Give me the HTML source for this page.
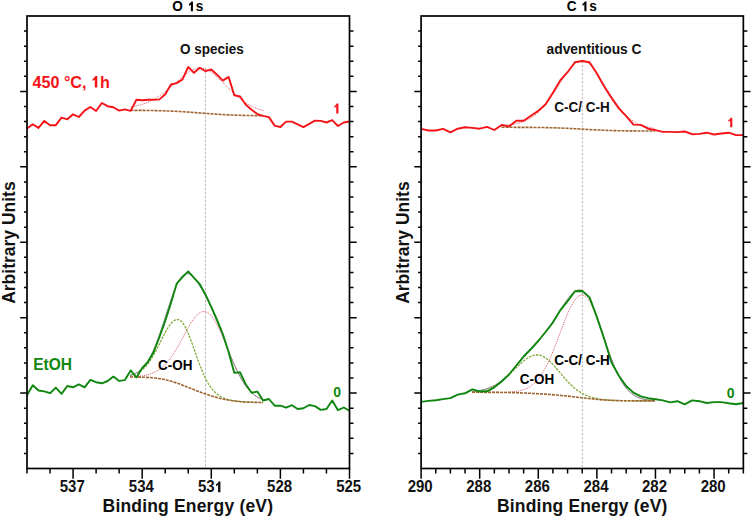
<!DOCTYPE html>
<html><head><meta charset="utf-8"><style>
html,body{margin:0;padding:0;background:#fff;}
body{width:752px;height:517px;overflow:hidden;}
svg{display:block;font-family:"Liberation Sans",sans-serif;font-weight:bold;}
</style></head><body>
<svg width="752" height="517" viewBox="0 0 752 517">
<rect width="752" height="517" fill="#fff"/>
<line x1="205.5" y1="67.7" x2="205.5" y2="468.5" stroke="#bbbbbb" stroke-width="1" stroke-dasharray="2.5,1.5"/>
<line x1="582.4" y1="61" x2="582.4" y2="468.5" stroke="#bbbbbb" stroke-width="1" stroke-dasharray="2.5,1.5"/>
<polyline points="130.6,106.89 132.26,106.62 133.92,106.32 135.58,105.99 137.25,105.62 138.91,105.21 140.57,104.76 142.23,104.27 143.89,103.72 145.55,103.13 147.21,102.48 148.87,101.78 150.53,101.02 152.2,100.19 153.86,99.31 155.52,98.36 157.18,97.36 158.84,96.29 160.5,95.15 162.16,93.96 163.82,92.71 165.49,91.41 167.15,90.06 168.81,88.67 170.47,87.23 172.13,85.77 173.79,84.29 175.45,82.79 177.12,81.3 178.78,79.81 180.44,78.35 182.1,76.92 183.76,75.54 185.42,74.23 187.08,73 188.74,71.87 190.41,70.86 192.07,69.97 193.73,69.23 195.39,68.66 197.05,68.25 198.71,68.03 200.37,67.99 202.03,68.15 203.69,68.49 205.36,69.02 207.02,69.72 208.68,70.59 210.34,71.62 212,72.78 213.66,74.06 215.32,75.44 216.99,76.91 218.65,78.45 220.31,80.05 221.97,81.68 223.63,83.34 225.29,85.01 226.95,86.68 228.61,88.33 230.27,89.96 231.94,91.55 233.6,93.11 235.26,94.62 236.92,96.07 238.58,97.47 240.24,98.8 241.9,100.07 243.56,101.27 245.23,102.41 246.89,103.48 248.55,104.47 250.21,105.4 251.87,106.27 253.53,107.07 255.19,107.8 256.86,108.48 258.52,109.1 260.18,109.67 261.84,110.19 263.5,110.66" fill="none" stroke="#d23c50" stroke-width="1" stroke-dasharray="1,1" stroke-opacity="0.85" stroke-linejoin="round"/>
<polyline points="130.6,110.3 132.26,110.31 133.92,110.32 135.58,110.33 137.25,110.35 138.91,110.36 140.57,110.38 142.23,110.39 143.89,110.41 145.55,110.43 147.21,110.46 148.87,110.48 150.53,110.51 152.2,110.53 153.86,110.57 155.52,110.6 157.18,110.64 158.84,110.68 160.5,110.72 162.16,110.77 163.82,110.82 165.49,110.87 167.15,110.93 168.81,111 170.47,111.06 172.13,111.13 173.79,111.21 175.45,111.29 177.12,111.38 178.78,111.47 180.44,111.56 182.1,111.66 183.76,111.76 185.42,111.87 187.08,111.98 188.74,112.1 190.41,112.22 192.07,112.34 193.73,112.46 195.39,112.59 197.05,112.72 198.71,112.85 200.37,112.98 202.03,113.11 203.69,113.24 205.36,113.37 207.02,113.5 208.68,113.63 210.34,113.75 212,113.87 213.66,113.99 215.32,114.1 216.99,114.21 218.65,114.32 220.31,114.42 221.97,114.52 223.63,114.61 225.29,114.7 226.95,114.79 228.61,114.87 230.27,114.94 231.94,115.01 233.6,115.08 235.26,115.14 236.92,115.2 238.58,115.25 240.24,115.3 241.9,115.35 243.56,115.39 245.23,115.43 246.89,115.47 248.55,115.5 250.21,115.53 251.87,115.56 253.53,115.58 255.19,115.61 256.86,115.63 258.52,115.65 260.18,115.67 261.84,115.68 263.5,115.7" fill="none" stroke="#9e6530" stroke-width="1.6" stroke-dasharray="3,1" stroke-linejoin="round"/>
<polyline points="130,375.58 131.66,375.18 133.32,374.69 134.99,374.08 136.65,373.35 138.31,372.47 139.97,371.43 141.64,370.2 143.3,368.77 144.96,367.13 146.62,365.27 148.29,363.17 149.95,360.85 151.61,358.29 153.28,355.53 154.94,352.57 156.6,349.45 158.26,346.21 159.93,342.89 161.59,339.55 163.25,336.25 164.91,333.06 166.57,330.06 168.24,327.3 169.9,324.87 171.56,322.83 173.22,321.24 174.89,320.14 176.55,319.59 178.21,319.59 179.88,320.2 181.54,321.51 183.2,323.53 184.86,326.2 186.53,329.46 188.19,333.22 189.85,337.39 191.51,341.85 193.18,346.51 194.84,351.26 196.5,356 198.16,360.64 199.82,365.11 201.49,369.35 203.15,373.31 204.81,376.96 206.47,380.28 208.14,383.26 209.8,385.92 211.46,388.26 213.12,390.3 214.79,392.07 216.45,393.59 218.11,394.9 219.78,396.01 221.44,396.96 223.1,397.76 224.76,398.45 226.43,399.03 228.09,399.53 229.75,399.96 231.41,400.32 233.07,400.64 234.74,400.91 236.4,401.15 238.06,401.35 239.72,401.53 241.39,401.69 243.05,401.82 244.71,401.94 246.38,402.04 248.04,402.12 249.7,402.2 251.36,402.26 253.03,402.31 254.69,402.36 256.35,402.4 258.01,402.43 259.68,402.46 261.34,402.48 263,402.5" fill="none" stroke="#82aa3c" stroke-width="1.3" stroke-dasharray="2.5,1.1" stroke-linejoin="round"/>
<polyline points="130,376.76 131.66,376.7 133.32,376.62 134.99,376.53 136.65,376.42 138.31,376.28 139.97,376.11 141.64,375.91 143.3,375.67 144.96,375.37 146.62,375.02 148.29,374.6 149.95,374.11 151.61,373.54 153.28,372.88 154.94,372.1 156.6,371.22 158.26,370.21 159.93,369.06 161.59,367.76 163.25,366.32 164.91,364.71 166.57,362.93 168.24,360.98 169.9,358.86 171.56,356.57 173.22,354.13 174.89,351.52 176.55,348.79 178.21,345.93 179.88,342.98 181.54,339.95 183.2,336.89 184.86,333.83 186.53,330.79 188.19,327.84 189.85,325 191.51,322.32 193.18,319.84 194.84,317.61 196.5,315.68 198.16,314.07 199.82,312.82 201.49,311.96 203.15,311.51 204.81,311.49 206.47,311.91 208.14,312.79 209.8,314.11 211.46,315.87 213.12,318.05 214.79,320.61 216.45,323.53 218.11,326.75 219.78,330.24 221.44,333.95 223.1,337.83 224.76,341.83 226.43,345.9 228.09,349.99 229.75,354.06 231.41,358.07 233.07,361.97 234.74,365.75 236.4,369.35 238.06,372.78 239.72,376 241.39,379.01 243.05,381.8 244.71,384.36 246.38,386.7 248.04,388.81 249.7,390.71 251.36,392.41 253.03,393.91 254.69,395.24 256.35,396.39 258.01,397.4 259.68,398.26 261.34,399.01 263,399.64" fill="none" stroke="#d23c50" stroke-width="1" stroke-dasharray="1,1" stroke-opacity="0.85" stroke-linejoin="round"/>
<polyline points="130,375.33 131.66,374.87 133.32,374.28 134.99,373.57 136.65,372.7 138.31,371.66 139.97,370.41 141.64,368.93 143.3,367.21 144.96,365.21 146.62,362.92 148.29,360.32 149.95,357.39 151.61,354.13 153.28,350.55 154.94,346.65 156.6,342.45 158.26,337.97 159.93,333.25 161.59,328.33 163.25,323.28 164.91,318.13 166.57,312.97 168.24,307.86 169.9,302.87 171.56,298.07 173.22,293.52 174.89,289.29 176.55,285.44 178.21,282.01 179.88,279.05 181.54,276.72 183.2,275.03 184.86,273.99 186.53,273.56 188.19,273.69 189.85,274.35 191.51,275.47 193.18,276.99 194.84,278.86 196.5,281.01 198.16,283.41 199.82,286 201.49,288.76 203.15,291.67 204.81,294.72 206.47,297.88 208.14,301.18 209.8,304.62 211.46,308.2 213.12,311.91 214.79,315.76 216.45,319.73 218.11,323.82 219.78,328 221.44,332.26 223.1,336.56 224.76,340.89 226.43,345.21 228.09,349.5 229.75,353.71 231.41,357.82 233.07,361.8 234.74,365.62 236.4,369.27 238.06,372.72 239.72,375.97 241.39,378.99 243.05,381.78 244.71,384.35 246.38,386.69 248.04,388.81 249.7,390.71 251.36,392.41 253.03,393.91 254.69,395.24 256.35,396.39 258.01,397.4 259.68,398.26 261.34,399.01 263,399.64" fill="none" stroke="#8a8a8a" stroke-width="1" stroke-linejoin="round"/>
<polyline points="130,377 131.66,377.01 133.32,377.03 134.99,377.04 136.65,377.07 138.31,377.1 139.97,377.13 141.64,377.18 143.3,377.23 144.96,377.29 146.62,377.37 148.29,377.46 149.95,377.57 151.61,377.7 153.28,377.85 154.94,378.02 156.6,378.22 158.26,378.44 159.93,378.7 161.59,378.98 163.25,379.29 164.91,379.64 166.57,380.01 168.24,380.42 169.9,380.86 171.56,381.34 173.22,381.84 174.89,382.37 176.55,382.93 178.21,383.51 179.88,384.12 181.54,384.75 183.2,385.39 184.86,386.04 186.53,386.7 188.19,387.36 189.85,388.03 191.51,388.7 193.18,389.36 194.84,390.01 196.5,390.66 198.16,391.3 199.82,391.93 201.49,392.54 203.15,393.15 204.81,393.73 206.47,394.31 208.14,394.86 209.8,395.41 211.46,395.93 213.12,396.43 214.79,396.92 216.45,397.39 218.11,397.83 219.78,398.25 221.44,398.66 223.1,399.03 224.76,399.39 226.43,399.72 228.09,400.03 229.75,400.31 231.41,400.58 233.07,400.81 234.74,401.03 236.4,401.23 238.06,401.41 239.72,401.57 241.39,401.71 243.05,401.84 244.71,401.95 246.38,402.04 248.04,402.13 249.7,402.2 251.36,402.26 253.03,402.32 254.69,402.36 256.35,402.4 258.01,402.43 259.68,402.46 261.34,402.48 263,402.5" fill="none" stroke="#9e6530" stroke-width="1.6" stroke-dasharray="3,1" stroke-linejoin="round"/>
<polyline points="501.5,125.5 503.42,125.36 505.34,125.2 507.26,125.02 509.18,124.8 511.09,124.55 513.01,124.26 514.93,123.92 516.85,123.52 518.77,123.05 520.69,122.51 522.61,121.89 524.52,121.17 526.44,120.35 528.36,119.41 530.28,118.35 532.2,117.15 534.12,115.82 536.04,114.32 537.96,112.67 539.88,110.86 541.79,108.88 543.71,106.74 545.63,104.43 547.55,101.97 549.47,99.37 551.39,96.63 553.31,93.79 555.23,90.85 557.14,87.85 559.06,84.81 560.98,81.78 562.9,78.79 564.82,75.88 566.74,73.09 568.66,70.48 570.58,68.09 572.49,65.97 574.41,64.16 576.33,62.71 578.25,61.66 580.17,61.03 582.09,60.85 584.01,61.11 585.92,61.82 587.84,62.96 589.76,64.5 591.68,66.4 593.6,68.63 595.52,71.13 597.44,73.87 599.36,76.78 601.27,79.82 603.19,82.95 605.11,86.13 607.03,89.31 608.95,92.45 610.87,95.53 612.79,98.52 614.71,101.4 616.62,104.14 618.54,106.73 620.46,109.16 622.38,111.43 624.3,113.52 626.22,115.44 628.14,117.19 630.06,118.77 631.98,120.2 633.89,121.47 635.81,122.61 637.73,123.61 639.65,124.49 641.57,125.26 643.49,125.93 645.41,126.51 647.33,127.01 649.24,127.45 651.16,127.82 653.08,128.14 655,128.41" fill="none" stroke="#d23c50" stroke-width="1" stroke-dasharray="1,1" stroke-opacity="0.85" stroke-linejoin="round"/>
<polyline points="501.5,127.3 503.42,127.3 505.34,127.31 507.26,127.31 509.18,127.31 511.09,127.32 513.01,127.32 514.93,127.33 516.85,127.33 518.77,127.34 520.69,127.35 522.61,127.36 524.52,127.37 526.44,127.38 528.36,127.39 530.28,127.4 532.2,127.42 534.12,127.44 536.04,127.46 537.96,127.48 539.88,127.51 541.79,127.54 543.71,127.57 545.63,127.6 547.55,127.64 549.47,127.69 551.39,127.74 553.31,127.79 555.23,127.85 557.14,127.91 559.06,127.98 560.98,128.05 562.9,128.13 564.82,128.22 566.74,128.3 568.66,128.4 570.58,128.49 572.49,128.6 574.41,128.7 576.33,128.81 578.25,128.92 580.17,129.03 582.09,129.14 584.01,129.25 585.92,129.36 587.84,129.47 589.76,129.58 591.68,129.69 593.6,129.79 595.52,129.89 597.44,129.98 599.36,130.07 601.27,130.16 603.19,130.24 605.11,130.31 607.03,130.38 608.95,130.45 610.87,130.51 612.79,130.56 614.71,130.61 616.62,130.66 618.54,130.7 620.46,130.74 622.38,130.77 624.3,130.8 626.22,130.83 628.14,130.85 630.06,130.87 631.98,130.89 633.89,130.91 635.81,130.92 637.73,130.93 639.65,130.95 641.57,130.96 643.49,130.96 645.41,130.97 647.33,130.98 649.24,130.99 651.16,130.99 653.08,131 655,131" fill="none" stroke="#9e6530" stroke-width="1.6" stroke-dasharray="3,1" stroke-linejoin="round"/>
<polyline points="472,391.59 474.29,391.36 476.57,391.09 478.86,390.74 481.15,390.31 483.44,389.79 485.73,389.16 488.01,388.42 490.3,387.54 492.59,386.51 494.88,385.34 497.16,384 499.45,382.51 501.74,380.85 504.02,379.04 506.31,377.1 508.6,375.03 510.89,372.88 513.17,370.66 515.46,368.43 517.75,366.21 520.04,364.07 522.33,362.05 524.61,360.2 526.9,358.56 529.19,357.19 531.48,356.12 533.76,355.39 536.05,355.02 538.34,355.02 540.62,355.45 542.91,356.32 545.2,357.61 547.49,359.29 549.77,361.3 552.06,363.58 554.35,366.08 556.64,368.71 558.92,371.43 561.21,374.17 563.5,376.87 565.79,379.48 568.08,381.97 570.36,384.29 572.65,386.45 574.94,388.41 577.23,390.17 579.51,391.74 581.8,393.13 584.09,394.34 586.38,395.39 588.66,396.29 590.95,397.05 593.24,397.71 595.52,398.26 597.81,398.72 600.1,399.11 602.39,399.44 604.67,399.71 606.96,399.93 609.25,400.12 611.54,400.28 613.83,400.4 616.11,400.51 618.4,400.59 620.69,400.66 622.98,400.71 625.26,400.76 627.55,400.79 629.84,400.82 632.12,400.84 634.41,400.85 636.7,400.87 638.99,400.88 641.27,400.88 643.56,400.89 645.85,400.89 648.14,400.9 650.42,400.9 652.71,400.9 655,400.9" fill="none" stroke="#82aa3c" stroke-width="1.3" stroke-dasharray="2.5,1.1" stroke-linejoin="round"/>
<polyline points="472,392.3 474.29,392.3 476.57,392.3 478.86,392.31 481.15,392.31 483.44,392.31 485.73,392.32 488.01,392.32 490.3,392.32 492.59,392.32 494.88,392.32 497.16,392.32 499.45,392.31 501.74,392.28 504.02,392.25 506.31,392.19 508.6,392.1 510.89,391.96 513.17,391.78 515.46,391.52 517.75,391.17 520.04,390.7 522.33,390.09 524.61,389.31 526.9,388.32 529.19,387.07 531.48,385.54 533.76,383.69 536.05,381.46 538.34,378.83 540.62,375.78 542.91,372.26 545.2,368.28 547.49,363.84 549.77,358.96 552.06,353.67 554.35,348.04 556.64,342.14 558.92,336.07 561.21,329.95 563.5,323.9 565.79,318.07 568.08,312.6 570.36,307.65 572.65,303.35 574.94,299.82 577.23,297.19 579.51,295.53 581.8,294.9 584.09,295.36 586.38,296.97 588.66,299.71 590.95,303.48 593.24,308.16 595.52,313.62 597.81,319.69 600.1,326.18 602.39,332.94 604.67,339.79 606.96,346.58 609.25,353.16 611.54,359.42 613.83,365.27 616.11,370.64 618.4,375.5 620.69,379.82 622.98,383.6 625.26,386.87 627.55,389.65 629.84,391.99 632.12,393.92 634.41,395.49 636.7,396.76 638.99,397.76 641.27,398.55 643.56,399.16 645.85,399.63 648.14,399.98 650.42,400.25 652.71,400.44 655,400.58" fill="none" stroke="#d23c50" stroke-width="1" stroke-dasharray="1,1" stroke-opacity="0.85" stroke-linejoin="round"/>
<polyline points="472,391.59 474.29,391.36 476.57,391.08 478.86,390.74 481.15,390.31 483.44,389.78 485.73,389.15 488.01,388.4 490.3,387.51 492.59,386.48 494.88,385.29 497.16,383.93 499.45,382.39 501.74,380.69 504.02,378.81 506.31,376.77 508.6,374.57 510.89,372.23 513.17,369.78 515.46,367.22 517.75,364.59 520.04,361.91 522.33,359.2 524.61,356.47 526.9,353.75 529.19,351.03 531.48,348.32 533.76,345.62 536.05,342.9 538.34,340.14 540.62,337.37 542.91,334.58 545.2,331.74 547.49,328.82 549.77,325.77 552.06,322.59 554.35,319.27 556.64,315.81 558.92,312.26 561.21,308.65 563.5,305.08 565.79,301.63 568.08,298.41 570.36,295.53 572.65,293.13 574.94,291.3 577.23,290.16 579.51,289.81 581.8,290.29 584.09,291.69 586.38,294.09 588.66,297.46 590.95,301.75 593.24,306.85 595.52,312.64 597.81,318.95 600.1,325.65 602.39,332.55 604.67,339.51 606.96,346.38 609.25,353.02 611.54,359.32 613.83,365.2 616.11,370.6 618.4,375.47 620.69,379.8 622.98,383.59 625.26,386.86 627.55,389.65 629.84,391.98 632.12,393.91 634.41,395.49 636.7,396.76 638.99,397.76 641.27,398.55 643.56,399.16 645.85,399.63 648.14,399.98 650.42,400.25 652.71,400.44 655,400.58" fill="none" stroke="#8a8a8a" stroke-width="1" stroke-linejoin="round"/>
<polyline points="472,392.3 474.29,392.3 476.57,392.3 478.86,392.31 481.15,392.31 483.44,392.32 485.73,392.33 488.01,392.33 490.3,392.35 492.59,392.36 494.88,392.38 497.16,392.4 499.45,392.42 501.74,392.45 504.02,392.48 506.31,392.51 508.6,392.56 510.89,392.61 513.17,392.66 515.46,392.72 517.75,392.79 520.04,392.86 522.33,392.94 524.61,393.03 526.9,393.13 529.19,393.23 531.48,393.34 533.76,393.46 536.05,393.58 538.34,393.71 540.62,393.85 542.91,394 545.2,394.15 547.49,394.31 549.77,394.48 552.06,394.66 554.35,394.85 556.64,395.04 558.92,395.25 561.21,395.46 563.5,395.68 565.79,395.92 568.08,396.16 570.36,396.41 572.65,396.67 574.94,396.93 577.23,397.2 579.51,397.47 581.8,397.74 584.09,398.01 586.38,398.27 588.66,398.53 590.95,398.78 593.24,399.02 595.52,399.24 597.81,399.46 600.1,399.65 602.39,399.83 604.67,399.99 606.96,400.13 609.25,400.26 611.54,400.37 613.83,400.47 616.11,400.55 618.4,400.62 620.69,400.68 622.98,400.72 625.26,400.76 627.55,400.8 629.84,400.82 632.12,400.84 634.41,400.86 636.7,400.87 638.99,400.88 641.27,400.88 643.56,400.89 645.85,400.89 648.14,400.9 650.42,400.9 652.71,400.9 655,400.9" fill="none" stroke="#9e6530" stroke-width="1.6" stroke-dasharray="3,1" stroke-linejoin="round"/>
<polyline points="27,128.6 32.76,124.3 38.52,127.9 44.28,120.9 50.04,125.2 55.79,125.2 61.55,117.7 67.31,119.3 73.07,114.3 78.83,117 84.59,110.6 90.35,107 96.11,111 101.87,103 107.62,106.2 113.38,107.3 119.14,110.6 124.9,109.4 130.66,110.9 136.42,99.7 142.18,100.3 147.94,99.7 153.7,99.7 159.46,99.4 165.21,94.2 170.97,84.5 176.73,83.1 182.49,79.4 188.25,67 194.01,72.8 199.77,67.7 205.53,71.2 211.29,69.5 217.04,74.7 222.8,80.6 228.56,76.9 234.32,95.2 240.08,96.5 245.84,104.7 251.6,109.8 257.36,114.1 263.12,115.9 268.88,117.1 274.63,125.6 280.39,127 286.15,121.6 291.91,121.6 297.67,124.3 303.43,127.1 309.19,123.9 314.95,120.6 320.71,120.9 326.46,122.5 332.22,120.1 337.98,126 343.74,122.5 349.5,121.5" fill="none" stroke="#f41418" stroke-width="1.9" stroke-linejoin="round"/>
<polyline points="27,395.3 32.76,385.2 38.52,390.5 44.28,391.4 50.04,393.2 55.79,387.6 61.55,393.9 67.31,386 73.07,387.3 78.83,384.4 84.59,387.3 90.35,379.9 96.11,382.2 101.87,383.3 107.62,381 113.38,376.6 119.14,380.9 124.9,380.1 130.66,370.4 136.42,377.5 142.18,368 147.94,362 153.7,352 159.46,337 165.21,321 170.97,303 176.73,283.6 182.49,277.2 188.25,271.4 194.01,277.8 199.77,284.2 205.53,294.6 211.29,306.8 217.04,320 222.8,334 228.56,352 234.32,372.9 240.08,372.3 245.84,384.5 251.6,392.8 257.36,391.6 263.12,400.5 268.88,399 274.63,405.7 280.39,405.7 286.15,407.7 291.91,405.2 297.67,409 303.43,408.3 309.19,405 314.95,406.1 320.71,409.9 326.46,409 332.22,400.5 337.98,410.2 343.74,407.5 349.5,410.8" fill="none" stroke="#0f870f" stroke-width="1.9" stroke-linejoin="round"/>
<polyline points="421.1,128.9 428.42,130.5 435.75,130.5 443.07,128.9 450.4,132.3 457.72,128.7 465.04,127.3 472.37,127.9 479.69,128.7 487.01,126.9 494.34,130 501.66,125 508.99,126.4 516.31,120.7 523.63,120.7 530.96,115.8 538.28,110.9 545.61,104.3 552.93,92.8 560.25,80.4 567.58,72.2 574.9,62.3 582.23,61 589.55,62.3 596.87,73.5 604.2,86.6 611.52,97.9 618.84,108.4 626.17,116.2 633.49,124.6 640.82,124.9 648.14,128.7 655.46,130.1 662.79,131.9 670.11,131.9 677.44,132.1 684.76,131.5 692.08,134.2 699.41,133.9 706.73,132.7 714.05,134.5 721.38,133.5 728.7,132.7 736.03,135.1 743.35,135.1" fill="none" stroke="#f41418" stroke-width="1.9" stroke-linejoin="round"/>
<polyline points="421.1,401.9 428.42,400.9 435.75,400.2 443.07,399.1 450.4,398.1 457.72,394.6 465.04,393.3 472.37,389.3 479.69,391.5 487.01,391.3 494.34,387.3 501.66,381.5 508.99,374.5 516.31,365.5 523.63,356.5 530.96,349 538.28,341 545.61,332 552.93,322.5 560.25,310.3 567.58,301.2 574.9,291.2 582.23,291 589.55,297.4 596.87,317.1 604.2,339 611.52,362.5 618.84,375.8 626.17,386 633.49,392.6 640.82,396.4 648.14,398.2 655.46,399.2 662.79,400.4 670.11,402.4 677.44,401.2 684.76,404.3 692.08,400.4 699.41,401.2 706.73,403 714.05,402.1 721.38,402.1 728.7,403.3 736.03,404.3 743.35,403" fill="none" stroke="#0f870f" stroke-width="1.9" stroke-linejoin="round"/>
<rect x="27" y="16" width="322.5" height="452.5" fill="none" stroke="#000" stroke-width="1.7"/>
<rect x="421.1" y="16" width="322.25" height="452.5" fill="none" stroke="#000" stroke-width="1.7"/>
<path d="M24 31.08H27M349.5 31.08H353.5M24 46.17H27M349.5 46.17H353.5M24 61.25H27M349.5 61.25H353.5M24 76.33H27M349.5 76.33H353.5M20.2 91.42H27M349.5 91.42H356.7M24 106.5H27M349.5 106.5H353.5M24 121.58H27M349.5 121.58H353.5M24 136.67H27M349.5 136.67H353.5M24 151.75H27M349.5 151.75H353.5M20.2 166.83H27M349.5 166.83H356.7M24 181.92H27M349.5 181.92H353.5M24 197H27M349.5 197H353.5M24 212.08H27M349.5 212.08H353.5M24 227.17H27M349.5 227.17H353.5M20.2 242.25H27M349.5 242.25H356.7M24 257.33H27M349.5 257.33H353.5M24 272.42H27M349.5 272.42H353.5M24 287.5H27M349.5 287.5H353.5M24 302.58H27M349.5 302.58H353.5M20.2 317.67H27M349.5 317.67H356.7M24 332.75H27M349.5 332.75H353.5M24 347.83H27M349.5 347.83H353.5M24 362.92H27M349.5 362.92H353.5M24 378H27M349.5 378H353.5M20.2 393.08H27M349.5 393.08H356.7M24 408.17H27M349.5 408.17H353.5M24 423.25H27M349.5 423.25H353.5M24 438.33H27M349.5 438.33H353.5M24 453.42H27M349.5 453.42H353.5" stroke="#000" stroke-width="1.5" fill="none"/>
<path d="M418.1 31.08H421.1M743.35 31.08H747.35M418.1 46.17H421.1M743.35 46.17H747.35M418.1 61.25H421.1M743.35 61.25H747.35M418.1 76.33H421.1M743.35 76.33H747.35M414.3 91.42H421.1M743.35 91.42H750.55M418.1 106.5H421.1M743.35 106.5H747.35M418.1 121.58H421.1M743.35 121.58H747.35M418.1 136.67H421.1M743.35 136.67H747.35M418.1 151.75H421.1M743.35 151.75H747.35M414.3 166.83H421.1M743.35 166.83H750.55M418.1 181.92H421.1M743.35 181.92H747.35M418.1 197H421.1M743.35 197H747.35M418.1 212.08H421.1M743.35 212.08H747.35M418.1 227.17H421.1M743.35 227.17H747.35M414.3 242.25H421.1M743.35 242.25H750.55M418.1 257.33H421.1M743.35 257.33H747.35M418.1 272.42H421.1M743.35 272.42H747.35M418.1 287.5H421.1M743.35 287.5H747.35M418.1 302.58H421.1M743.35 302.58H747.35M414.3 317.67H421.1M743.35 317.67H750.55M418.1 332.75H421.1M743.35 332.75H747.35M418.1 347.83H421.1M743.35 347.83H747.35M418.1 362.92H421.1M743.35 362.92H747.35M418.1 378H421.1M743.35 378H747.35M414.3 393.08H421.1M743.35 393.08H750.55M418.1 408.17H421.1M743.35 408.17H747.35M418.1 423.25H421.1M743.35 423.25H747.35M418.1 438.33H421.1M743.35 438.33H747.35M418.1 453.42H421.1M743.35 453.42H747.35" stroke="#000" stroke-width="1.5" fill="none"/>
<path d="M27 468.5V473.5M50.04 468.5V473.5M73.07 468.5V478.8M96.11 468.5V473.5M119.14 468.5V473.5M142.18 468.5V478.8M165.21 468.5V473.5M188.25 468.5V473.5M211.29 468.5V478.8M234.32 468.5V473.5M257.36 468.5V473.5M280.39 468.5V478.8M303.43 468.5V473.5M326.46 468.5V473.5M349.5 468.5V478.8" stroke="#000" stroke-width="1.5" fill="none"/>
<path d="M421.1 468.5V478.8M435.75 468.5V473.5M450.4 468.5V473.5M465.04 468.5V473.5M479.69 468.5V478.8M494.34 468.5V473.5M508.99 468.5V473.5M523.63 468.5V473.5M538.28 468.5V478.8M552.93 468.5V473.5M567.58 468.5V473.5M582.23 468.5V473.5M596.87 468.5V478.8M611.52 468.5V473.5M626.17 468.5V473.5M640.82 468.5V473.5M655.46 468.5V478.8M670.11 468.5V473.5M684.76 468.5V473.5M699.41 468.5V473.5M714.05 468.5V478.8M728.7 468.5V473.5M743.35 468.5V473.5" stroke="#000" stroke-width="1.5" fill="none"/>
<g transform="matrix(1 0 0 1.04 0 -19.692)"><text x="72.27" y="492.3" font-size="15" fill="#111" text-anchor="middle">537</text></g>
<g transform="matrix(1 0 0 1.04 0 -19.692)"><text x="141.38" y="492.3" font-size="15" fill="#111" text-anchor="middle">534</text></g>
<g transform="matrix(1 0 0 1.04 0 -19.692)"><text id="t1" x="210.49" y="492.3" font-size="15" fill="#111" text-anchor="middle">53 </text>
<path d="M470 0L470 985C395 910 300 845 190 800L190 1065C345 1125 460 1225 535 1409L790 1409L790 0Z" fill="#111" transform="translate(214.64 492.30) scale(0.007324 -0.007324)"/>
</g>
<g transform="matrix(1 0 0 1.04 0 -19.692)"><text x="279.59" y="492.3" font-size="15" fill="#111" text-anchor="middle">528</text></g>
<g transform="matrix(1 0 0 1.04 0 -19.692)"><text x="348.7" y="492.3" font-size="15" fill="#111" text-anchor="middle">525</text></g>
<g transform="matrix(1 0 0 1.04 0 -19.692)"><text x="420.2" y="492.3" font-size="15" fill="#111" text-anchor="middle">290</text></g>
<g transform="matrix(1 0 0 1.04 0 -19.692)"><text x="478.79" y="492.3" font-size="15" fill="#111" text-anchor="middle">288</text></g>
<g transform="matrix(1 0 0 1.04 0 -19.692)"><text x="537.38" y="492.3" font-size="15" fill="#111" text-anchor="middle">286</text></g>
<g transform="matrix(1 0 0 1.04 0 -19.692)"><text x="595.97" y="492.3" font-size="15" fill="#111" text-anchor="middle">284</text></g>
<g transform="matrix(1 0 0 1.04 0 -19.692)"><text x="654.56" y="492.3" font-size="15" fill="#111" text-anchor="middle">282</text></g>
<g transform="matrix(1 0 0 1.04 0 -19.692)"><text x="713.15" y="492.3" font-size="15" fill="#111" text-anchor="middle">280</text></g>
<g transform="matrix(1 0 0 1.04 0 -20.484)"><text x="187.9" y="512.1" font-size="17.5" fill="#111" text-anchor="middle" letter-spacing="0.18">Binding Energy (eV)</text></g>
<g transform="matrix(1 0 0 1.04 0 -20.484)"><text x="582.3" y="512.1" font-size="17.5" fill="#111" text-anchor="middle" letter-spacing="0.18">Binding Energy (eV)</text></g>
<text transform="translate(14.7,242.6) rotate(-90) scale(1,1.04)" font-size="17.5" fill="#111" text-anchor="middle">Arbitrary Units</text>
<text transform="translate(409.3,242.6) rotate(-90) scale(1,1.04)" font-size="17.5" fill="#111" text-anchor="middle">Arbitrary Units</text>
<g transform="matrix(1 0 0 1.04 0 -0.448)"><text id="t2" x="188.1" y="11.2" font-size="13.6" fill="#000" text-anchor="middle" letter-spacing="0.5">O  s</text>
<path d="M470 0L470 985C395 910 300 845 190 800L190 1065C345 1125 460 1225 535 1409L790 1409L790 0Z" fill="#000" transform="translate(187.70 11.20) scale(0.006641 -0.006641)"/>
</g>
<g transform="matrix(1 0 0 1.04 0 -0.448)"><text id="t3" x="582" y="11.2" font-size="13.6" fill="#000" text-anchor="middle" letter-spacing="0.5">C  s</text>
<path d="M470 0L470 985C395 910 300 845 190 800L190 1065C345 1125 460 1225 535 1409L790 1409L790 0Z" fill="#000" transform="translate(581.23 11.20) scale(0.006641 -0.006641)"/>
</g>
<g transform="matrix(1 0 0 1.04 0 -2.160)"><text x="212" y="54" font-size="13.5" fill="#111" text-anchor="middle">O species</text></g>
<g transform="matrix(1 0 0 1.04 0 -2.160)"><text x="594.1" y="54" font-size="13.8" fill="#111" text-anchor="middle">adventitious C</text></g>
<g transform="matrix(1 0 0 1.04 0 -4.492)"><text x="582" y="112.3" font-size="13.5" fill="#111" text-anchor="middle">C-C/ C-H</text></g>
<g transform="matrix(1 0 0 1.04 0 -14.820)"><text x="175.2" y="370.5" font-size="13.5" fill="#000" text-anchor="middle">C-OH</text></g>
<g transform="matrix(1 0 0 1.04 0 -15.368)"><text x="537" y="384.2" font-size="13.5" fill="#000" text-anchor="middle">C-OH</text></g>
<g transform="matrix(1 0 0 1.04 0 -14.620)"><text x="582" y="365.5" font-size="13.5" fill="#000" text-anchor="middle">C-C/ C-H</text></g>
<g transform="matrix(1 0 0 1.04 0 -3.504)"><text id="t4" x="32.4" y="87.6" font-size="16.2" fill="#f41418" text-anchor="start">450 °C,  h</text>
<path d="M470 0L470 985C395 910 300 845 190 800L190 1065C345 1125 460 1225 535 1409L790 1409L790 0Z" fill="#f41418" transform="translate(91.06 87.60) scale(0.007910 -0.007910)"/>
</g>
<g transform="matrix(1 0 0 1.04 0 -14.800)"><text x="33.2" y="370" font-size="15.5" fill="#0f870f" text-anchor="start">EtOH</text></g>
<g transform="matrix(1 0 0 1.04 0 -4.544)"><text id="t5" x="340.8" y="113.6" font-size="14" fill="#f41418" text-anchor="end"> </text>
<path d="M470 0L470 985C395 910 300 845 190 800L190 1065C345 1125 460 1225 535 1409L790 1409L790 0Z" fill="#f41418" transform="translate(333.02 113.60) scale(0.006836 -0.006836)"/>
</g>
<g transform="matrix(1 0 0 1.04 0 -5.092)"><text id="t6" x="734.6" y="127.3" font-size="13.5" fill="#f41418" text-anchor="end"> </text>
<path d="M470 0L470 985C395 910 300 845 190 800L190 1065C345 1125 460 1225 535 1409L790 1409L790 0Z" fill="#f41418" transform="translate(727.10 127.30) scale(0.006592 -0.006592)"/>
</g>
<g transform="matrix(1 0 0 1.04 0 -15.900)"><text x="341" y="397.5" font-size="14" fill="#0f870f" text-anchor="end">0</text></g>
<g transform="matrix(1 0 0 1.04 0 -15.904)"><text x="734.5" y="397.6" font-size="14" fill="#0f870f" text-anchor="end">0</text></g>
</svg>
</body></html>
